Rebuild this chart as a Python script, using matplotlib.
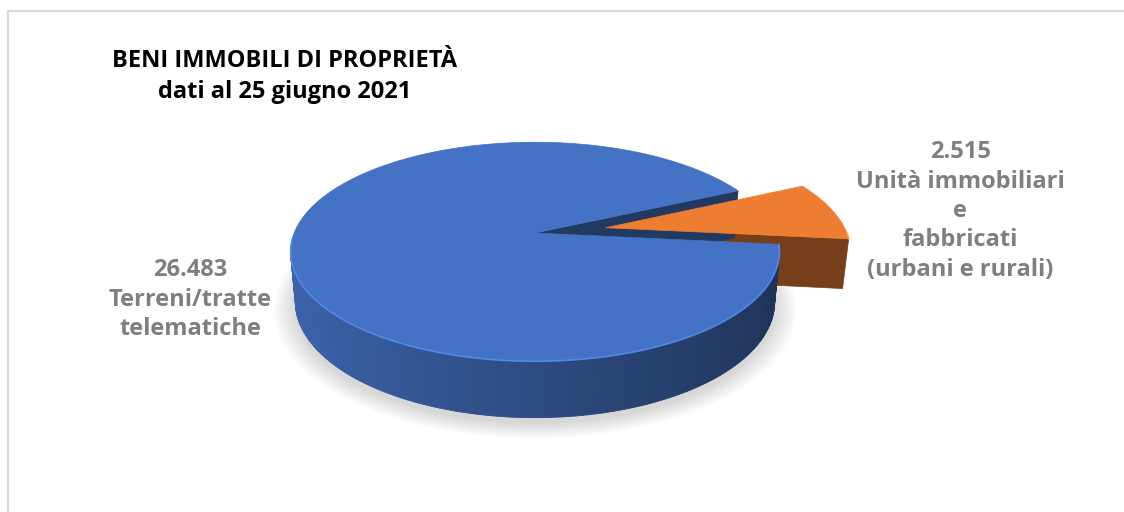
import numpy as np
import matplotlib
matplotlib.use("Agg")
import matplotlib.pyplot as plt
from matplotlib.patches import Polygon
from matplotlib.colors import to_rgb

# --- data -------------------------------------------------------------
categories = ["Terreni/tratte\ntelematiche",
              "Unità immobiliari\ne\nfabbricati\n(urbani e rurali)"]
values = [26483, 2515]
value_labels = ["26.483", "2.515"]
explode = [0.0, 0.3]
slice_colors = ["#4472C4", "#ED7D31"]

title_lines = ["BENI IMMOBILI DI PROPRIETÀ", "dati al 25 giugno 2021"]

# --- 3D pie geometry (perspective camera) ------------------------------
W, H = 1124, 512
CX, CY = 535.0, 233.0          # screen position of the pie centre (px)
PHI = np.radians(26.2)         # camera elevation
DIST = 5.24                    # camera distance (pie radius = 1)
FOCAL = 1262.0                 # focal length in px
THICK = 0.233                  # pie thickness
START_DEG = -6.0               # first slice starts here, drawn clockwise

cphi, sphi = np.cos(PHI), np.sin(PHI)
cam = np.array([0.0, -DIST * cphi, DIST * sphi])


def project(x, y, z):
    qy = y + DIST * cphi
    qz = z - DIST * sphi
    depth = qy * cphi - qz * sphi
    up = qy * sphi + qz * cphi
    return CX + FOCAL * np.asarray(x) / depth, CY - FOCAL * up / depth


def shade(color, f):
    r, g, b = to_rgb(color)
    return (min(r * f, 1), min(g * f, 1), min(b * f, 1))


plt.rcParams["font.family"] = ["Open Sans", "DejaVu Sans"]
fig = plt.figure(figsize=(W / 100, H / 100), dpi=100)
ax = fig.add_axes([0, 0, 1, 1])
ax.set_xlim(0, W)
ax.set_ylim(H, 0)
ax.axis("off")

# frame lines
ax.plot([7.5, 7.5, W + 5], [H + 5, 10.5, 10.5], color="#d9d9d9", lw=1.6,
        solid_capstyle="butt", zorder=0)

total = float(sum(values))
slices = []
a_end = np.radians(START_DEG)
for v, e, col in zip(values, explode, slice_colors):
    span = 2 * np.pi * v / total
    a_hi = a_end                 # clockwise: this slice covers [a_hi - span, a_hi]
    a_lo = a_hi - span
    a_end = a_lo
    mid = 0.5 * (a_lo + a_hi)
    ox, oy = e * np.cos(mid), e * np.sin(mid)
    cy_ = oy + (2 / 3) * np.sin(span / 2) / (span / 2) * np.sin(mid)
    slices.append(dict(lo=a_lo, hi=a_hi, ox=ox, oy=oy, color=col, depth_key=cy_))

# soft shadow below the pie
for k in range(8):
    t = np.linspace(0, 2 * np.pi, 200)
    r = 1.0 + 0.012 * k
    sx, sy = project(r * np.cos(t), r * np.sin(t) - 0.02, -THICK)
    ax.add_patch(Polygon(np.column_stack([sx, sy + 3]), closed=True,
                         facecolor="#000000", alpha=0.018, lw=0, zorder=1))

# walls: farther slices first
order = sorted(range(len(slices)), key=lambda i: -slices[i]["depth_key"])
z = 2
for i in order:
    s = slices[i]
    ox, oy, col = s["ox"], s["oy"], s["color"]

    # radial cut faces
    for ang, nrm in ((s["lo"], (np.sin(s["lo"]), -np.cos(s["lo"]))),
                     (s["hi"], (-np.sin(s["hi"]), np.cos(s["hi"])))):
        pm = np.array([ox + 0.5 * np.cos(ang), oy + 0.5 * np.sin(ang), -THICK / 2])
        if nrm[0] * (cam[0] - pm[0]) + nrm[1] * (cam[1] - pm[1]) <= 0:
            continue
        xs = np.array([ox, ox + np.cos(ang), ox + np.cos(ang), ox])
        ys = np.array([oy, oy + np.sin(ang), oy + np.sin(ang), oy])
        zs = np.array([0, 0, -THICK, -THICK])
        px, py = project(xs, ys, zs)
        ax.add_patch(Polygon(np.column_stack([px, py]), closed=True,
                             facecolor=shade(col, 0.5), edgecolor=shade(col, 0.5),
                             lw=0.5, zorder=z))

    # outer curved wall, shaded from left (light) to right (dark)
    t = np.linspace(s["lo"], s["hi"], 400)
    for t0, t1 in zip(t[:-1], t[1:]):
        tm = 0.5 * (t0 + t1)
        px_ = ox + np.cos(tm)
        py_ = oy + np.sin(tm)
        if np.cos(tm) * (cam[0] - px_) + np.sin(tm) * (cam[1] - py_) <= 0:
            continue
        xs = ox + np.cos([t0, t1, t1, t0])
        ys = oy + np.sin([t0, t1, t1, t0])
        zs = np.array([0, 0, -THICK, -THICK])
        px, py = project(xs, ys, zs)
        f = 0.66 - 0.22 * np.cos(tm)
        c = shade(col, f)
        ax.add_patch(Polygon(np.column_stack([px, py]), closed=True,
                             facecolor=c, edgecolor=c, lw=0.6, zorder=z))
    z += 1

# top faces
for i in order:
    s = slices[i]
    ox, oy, col = s["ox"], s["oy"], s["color"]
    t = np.linspace(s["lo"], s["hi"], 300)
    xs = np.concatenate([[ox], ox + np.cos(t)])
    ys = np.concatenate([[oy], oy + np.sin(t)])
    px, py = project(xs, ys, np.zeros_like(xs))
    ax.add_patch(Polygon(np.column_stack([px, py]), closed=True,
                         facecolor=col, edgecolor=col, lw=0.5, zorder=z))
    # light rim along the front edge of the top face
    front = t[np.sin(t) < -0.05]
    if front.size:
        rx, ry = project(ox + np.cos(front), oy + np.sin(front), np.zeros_like(front))
        ax.plot(rx, ry, color=shade(col, 1.25), lw=1.2, alpha=0.8, zorder=z + 0.5)
    z += 1

# title
ax.text(285, 61, title_lines[0], ha="center", va="center", fontsize=17,
        fontweight="bold", color="#000000")
ax.text(285, 92, title_lines[1], ha="center", va="center", fontsize=17,
        fontweight="bold", color="#000000")

# data labels
label_pos = [(190, 270), (960, 152)]
for (lx, ly), vl, cat in zip(label_pos, value_labels, categories):
    lines = [vl] + cat.split("\n")
    for k, line in enumerate(lines):
        ax.text(lx, ly + k * 29.5, line, ha="center", va="center", fontsize=17,
                fontweight="bold", color="#7f7f7f")

fig.savefig("out.png", dpi=100, facecolor="white")
